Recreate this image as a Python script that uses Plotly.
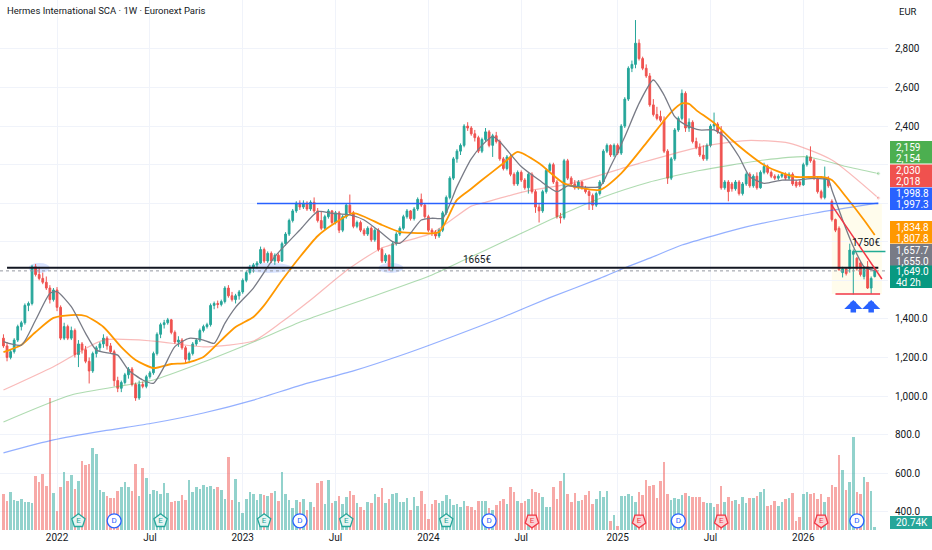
import pandas as pd
import plotly.graph_objects as go

FIRST_WEEK = "2021-09-20"

# weekly candles
OPEN = [
    1300, 1260, 1200, 1230, 1290, 1360, 1380, 1470, 1480, 1670,
    1630, 1610, 1590, 1560, 1500, 1550, 1460, 1300, 1360, 1300,
    1340, 1215, 1270, 1240, 1180, 1130, 1220, 1250, 1270, 1300,
    1260, 1230, 1080, 1040, 1070, 1110, 1140, 1060, 990, 1060,
    1050, 1100, 1120, 1220, 1320, 1370, 1380, 1395, 1330, 1280,
    1290, 1250, 1190, 1220, 1270, 1290, 1340, 1360, 1370, 1470,
    1480, 1475, 1490, 1560, 1520, 1500, 1520, 1540, 1600, 1640,
    1665, 1680, 1690, 1760, 1700, 1740, 1700, 1730, 1700, 1790,
    1840, 1910, 1960, 2000, 1980, 2000, 1970, 2005, 1960, 1910,
    1870, 1930, 1960, 1900, 1950, 1860, 1930, 1990, 1950, 1880,
    1900, 1860, 1840, 1870, 1810, 1860, 1760, 1700, 1730, 1670,
    1790, 1840, 1870, 1930, 1960, 1920, 1970, 2020, 1990, 1930,
    1860, 1850, 1830, 1860, 1950, 2030, 2130, 2230, 2270, 2300,
    2400, 2390, 2360, 2340, 2270, 2330, 2370, 2300, 2350, 2320,
    2230, 2180, 2240, 2150, 2100, 2160, 2120, 2080, 2150, 2060,
    1980, 1960, 2060, 2170, 2200, 2110, 1930, 1925, 2220, 2130,
    2100, 2080, 2110, 2080, 2060, 2040, 1990, 2050, 2110, 2270,
    2300, 2250, 2300, 2260, 2400, 2540, 2700, 2720, 2830, 2750,
    2700, 2660, 2510, 2460, 2450, 2430, 2270, 2130, 2230, 2380,
    2440, 2570, 2390, 2420, 2320, 2290, 2250, 2230, 2300, 2400,
    2410, 2370, 2080, 2110, 2100, 2075, 2110, 2050, 2100, 2150,
    2090, 2140, 2080, 2160, 2190, 2160, 2140, 2130, 2140, 2150,
    2130, 2150, 2110, 2110, 2095, 2200, 2240, 2220, 2130, 2060,
    2030, 2130, 2010, 1915, 1870, 1640, 1660, 1660, 1735, 1715,
    1690, 1620, 1670, 1560, 1620,
]
HIGH = [
    1320, 1280, 1240, 1300, 1370, 1390, 1480, 1490, 1680, 1685,
    1670, 1640, 1620, 1575, 1560, 1565, 1470, 1380, 1370, 1360,
    1350, 1290, 1280, 1260, 1200, 1230, 1260, 1280, 1320, 1310,
    1275, 1240, 1100, 1080, 1120, 1150, 1150, 1070, 1080, 1075,
    1110, 1130, 1230, 1330, 1380, 1395, 1405, 1400, 1340, 1310,
    1300, 1260, 1230, 1280, 1300, 1350, 1370, 1380, 1480, 1490,
    1495, 1500, 1570, 1575, 1540, 1530, 1550, 1610, 1650, 1680,
    1690, 1700, 1775, 1770, 1750, 1750, 1740, 1740, 1800, 1850,
    1920, 1970, 2010, 2015, 2015, 2010, 2015, 2030, 1975, 1960,
    1940, 1970, 1965, 1960, 1960, 1940, 2000, 2045, 1960, 1910,
    1910, 1870, 1880, 1880, 1870, 1870, 1770, 1740, 1735, 1800,
    1850, 1880, 1940, 1970, 1965, 1980, 2030, 2050, 2000, 1940,
    1870, 1860, 1870, 1960, 2040, 2140, 2240, 2280, 2310, 2410,
    2420, 2400, 2380, 2350, 2340, 2390, 2380, 2360, 2370, 2330,
    2240, 2250, 2250, 2160, 2170, 2170, 2130, 2160, 2160, 2070,
    2000, 2070, 2180, 2210, 2210, 2120, 1950, 2230, 2230, 2140,
    2120, 2120, 2115, 2090, 2070, 2050, 2060, 2120, 2280, 2310,
    2305, 2310, 2310, 2410, 2550, 2710, 2740, 2950, 2850, 2760,
    2720, 2675, 2540, 2500, 2480, 2450, 2280, 2240, 2390, 2450,
    2590, 2580, 2440, 2430, 2340, 2310, 2300, 2310, 2410, 2470,
    2420, 2400, 2120, 2120, 2110, 2120, 2120, 2110, 2160, 2160,
    2150, 2160, 2170, 2210, 2200, 2170, 2150, 2150, 2160, 2160,
    2160, 2160, 2120, 2120, 2210, 2250, 2295, 2230, 2140, 2070,
    2190, 2140, 2020, 1920, 1880, 1670, 1665, 1790, 1760, 1720,
    1700, 1665, 1700, 1620, 1665,
]
LOW = [
    1250, 1180, 1190, 1220, 1280, 1340, 1370, 1440, 1470, 1620,
    1600, 1580, 1550, 1480, 1490, 1440, 1290, 1290, 1290, 1290,
    1200, 1150, 1220, 1170, 1065, 1120, 1200, 1230, 1250, 1240,
    1220, 1050, 1020, 1020, 1060, 1090, 1050, 975, 980, 1040,
    1040, 1090, 1110, 1210, 1300, 1350, 1370, 1320, 1270, 1255,
    1240, 1170, 1170, 1210, 1260, 1280, 1330, 1350, 1360, 1450,
    1455, 1465, 1480, 1510, 1490, 1480, 1500, 1530, 1590, 1630,
    1640, 1660, 1685, 1690, 1690, 1690, 1680, 1690, 1695, 1780,
    1830, 1900, 1950, 1965, 1970, 1960, 1960, 1950, 1900, 1860,
    1860, 1920, 1890, 1890, 1845, 1850, 1920, 1940, 1870, 1870,
    1850, 1830, 1830, 1800, 1800, 1750, 1690, 1690, 1650, 1650,
    1780, 1830, 1860, 1920, 1910, 1910, 1960, 1980, 1920, 1850,
    1830, 1815, 1820, 1850, 1940, 2020, 2120, 2210, 2250, 2290,
    2375, 2350, 2320, 2260, 2260, 2320, 2290, 2240, 2310, 2220,
    2170, 2170, 2140, 2090, 2090, 2110, 2070, 2050, 2050, 1950,
    1900, 1950, 2050, 2160, 2100, 1920, 1895, 1915, 2120, 2090,
    2070, 2070, 2070, 2050, 1965, 1965, 1980, 2040, 2100, 2260,
    2240, 2240, 2250, 2250, 2390, 2530, 2680, 2700, 2740, 2690,
    2650, 2500, 2450, 2430, 2420, 2260, 2100, 2120, 2220, 2370,
    2430, 2370, 2370, 2310, 2280, 2240, 2220, 2220, 2290, 2380,
    2360, 2070, 2070, 2010, 2060, 2065, 2040, 2040, 2090, 2080,
    2080, 2070, 2075, 2150, 2150, 2130, 2120, 2120, 2130, 2120,
    2120, 2090, 2080, 2085, 2090, 2190, 2210, 2120, 2050, 2020,
    2020, 2080, 1905, 1850, 1650, 1615, 1625, 1640, 1527, 1650,
    1620, 1605, 1555, 1530, 1615,
]
CLOSE = [
    1260, 1200, 1230, 1290, 1360, 1380, 1470, 1480, 1670, 1630,
    1610, 1590, 1560, 1500, 1550, 1460, 1300, 1360, 1300, 1340,
    1215, 1270, 1240, 1180, 1130, 1220, 1250, 1270, 1300, 1260,
    1230, 1080, 1040, 1070, 1110, 1140, 1060, 990, 1060, 1050,
    1100, 1120, 1220, 1320, 1370, 1380, 1395, 1330, 1280, 1290,
    1250, 1190, 1220, 1270, 1290, 1340, 1360, 1370, 1470, 1480,
    1475, 1490, 1560, 1520, 1500, 1520, 1540, 1600, 1640, 1665,
    1680, 1690, 1760, 1700, 1740, 1700, 1730, 1700, 1790, 1840,
    1910, 1960, 2000, 1980, 2000, 1970, 2005, 1960, 1910, 1870,
    1930, 1960, 1900, 1950, 1860, 1930, 1990, 1950, 1880, 1900,
    1860, 1840, 1870, 1810, 1860, 1760, 1700, 1730, 1670, 1790,
    1840, 1870, 1930, 1960, 1920, 1970, 2020, 1990, 1930, 1860,
    1850, 1830, 1860, 1950, 2030, 2130, 2230, 2270, 2300, 2400,
    2390, 2360, 2340, 2270, 2330, 2370, 2300, 2350, 2320, 2230,
    2180, 2240, 2150, 2100, 2160, 2120, 2080, 2150, 2060, 1980,
    1960, 2060, 2170, 2200, 2110, 1930, 1925, 2220, 2130, 2100,
    2080, 2110, 2080, 2060, 2040, 1990, 2050, 2110, 2270, 2300,
    2250, 2300, 2260, 2400, 2540, 2700, 2720, 2830, 2750, 2700,
    2660, 2510, 2460, 2440, 2430, 2270, 2130, 2230, 2380, 2440,
    2570, 2390, 2420, 2320, 2290, 2250, 2230, 2300, 2400, 2410,
    2370, 2080, 2110, 2060, 2075, 2110, 2050, 2100, 2150, 2090,
    2140, 2080, 2160, 2190, 2160, 2140, 2130, 2140, 2150, 2130,
    2150, 2100, 2090, 2095, 2200, 2240, 2220, 2130, 2060, 2030,
    2130, 2090, 1915, 1860, 1655, 1660, 1635, 1757, 1750, 1660,
    1630, 1660, 1560, 1610, 1649,
]
# weekly volume, thousands of shares
VOLUME_K = [
    216, 176, 226, 180, 172, 186, 166, 166, 162, 326,
    286, 336, 266, 792, 220, 116, 256, 350, 292, 330,
    246, 292, 416, 390, 396, 490, 456, 240, 230, 202,
    192, 192, 232, 256, 286, 256, 236, 396, 206, 372,
    310, 216, 240, 236, 216, 280, 220, 170, 172, 176,
    210, 182, 300, 226, 256, 246, 270, 260, 262, 246,
    256, 242, 186, 436, 180, 306, 170, 102, 186, 230,
    216, 180, 216, 212, 206, 220, 236, 176, 350, 216,
    182, 132, 180, 166, 186, 120, 166, 136, 280, 292,
    156, 300, 162, 176, 202, 156, 196, 232, 210, 164,
    140, 122, 166, 162, 216, 200, 250, 162, 186, 216,
    220, 166, 166, 192, 122, 196, 146, 236, 156, 66,
    156, 180, 160, 176, 210, 186, 150, 156, 136, 176,
    146, 136, 122, 172, 176, 176, 130, 122, 150, 172,
    186, 156, 256, 230, 172, 162, 176, 186, 246, 226,
    222, 196, 136, 140, 256, 186, 296, 340, 216, 166,
    222, 172, 180, 210, 236, 156, 186, 236, 196, 232,
    56, 92, 26, 202, 206, 216, 206, 166, 230, 212,
    300, 266, 270, 190, 296, 406, 216, 180, 190, 184,
    210, 222, 206, 196, 196, 200, 170, 162, 162, 136,
    156, 266, 166, 196, 176, 180, 156, 196, 162, 190,
    192, 206, 226, 246, 142, 150, 172, 146, 166, 186,
    190, 220, 56, 80, 216, 230, 216, 220, 186, 216,
    166, 196, 270, 256, 450, 360, 240, 286, 556, 226,
    216, 316, 286, 236, 20.74,
]

# moving averages: week index -> value
SMA10_WEEK = [0, 5, 9, 13, 15, 19, 23, 26, 30, 32, 35, 39, 42, 45, 48, 52, 56, 59, 62, 65,
              70, 76, 83, 88, 92, 97, 101, 106, 109, 111, 114, 117, 120, 123, 127, 131, 134, 137, 139, 145,
              150, 155, 158, 161, 167, 170, 174, 178, 182, 185, 188, 191, 195, 199, 202, 206, 209, 213, 218, 222,
              227, 231, 232, 235, 238, 241, 244]
SMA10 = [1282, 1264, 1394, 1532, 1541, 1463, 1325, 1238, 1221, 1212, 1135, 1083, 1066, 1152, 1256, 1299, 1290, 1273, 1377, 1460,
         1560, 1723, 1861, 1956, 1948, 1939, 1913, 1844, 1801, 1792, 1844, 1913, 1922, 1922, 2086, 2230, 2300, 2345, 2319, 2190,
         2120, 2060, 2090, 2086, 2086, 2190, 2345, 2518, 2639, 2561, 2449, 2406, 2380, 2380, 2345, 2241, 2138, 2103, 2120, 2120,
         2129, 2120, 2069, 1913, 1775, 1671, 1650]
SMA20_WEEK = [0, 5, 9, 14, 19, 23, 28, 33, 37, 42, 47, 51, 56, 61, 65, 70, 73, 78, 83, 88,
              92, 98, 106, 111, 116, 122, 127, 131, 134, 140, 144, 150, 157, 167, 173, 180, 187, 190, 192, 194,
              199, 204, 208, 213, 218, 222, 229, 232, 236, 241, 244]
SMA20 = [1228, 1265, 1332, 1405, 1420, 1415, 1358, 1254, 1187, 1145, 1166, 1171, 1202, 1290, 1358, 1410, 1470, 1600, 1721, 1830,
         1887, 1949, 1887, 1851, 1845, 1851, 2017, 2075, 2120, 2207, 2266, 2207, 2103, 2069, 2155, 2312, 2473, 2518, 2515, 2483,
         2416, 2328, 2266, 2198, 2157, 2136, 2136, 2120, 2032, 1913, 1835]
SMA50_WEEK = [0, 14, 28, 42, 56, 70, 78, 86, 96, 106, 120, 131, 134, 146, 159, 178, 195, 208, 220, 232, 245]
SMA50 = [1031, 1152, 1290, 1285, 1255, 1285, 1385, 1498, 1650, 1768, 1845, 1985, 2000, 2060, 2103, 2207, 2291, 2325, 2312, 2224, 2027]
SMA100_WEEK = [0, 19, 42, 56, 70, 84, 103, 120, 129, 141, 155, 168, 181, 190, 195, 213, 225, 236, 245]
SMA100 = [865, 1005, 1083, 1176, 1280, 1390, 1514, 1628, 1705, 1809, 1930, 2032, 2110, 2150, 2170, 2224, 2241, 2190, 2154]
SMA200_WEEK = [0, 14, 28, 42, 56, 70, 84, 98, 112, 126, 140, 153, 167, 174, 181, 190, 208, 227, 245]
SMA200 = [705, 772, 819, 860, 912, 979, 1060, 1130, 1215, 1310, 1410, 1510, 1610, 1665, 1715, 1783, 1877, 1948, 2002]

# earnings (E+ beat, E- miss) and dividend markers
EVENT_DATES = ["2022-02-14", "2022-04-25", "2022-07-25", "2023-02-13", "2023-04-24", "2023-07-24", "2024-02-05",
               "2024-04-29", "2024-07-22", "2025-02-17", "2025-05-05", "2025-07-28", "2026-02-09", "2026-04-20"]
EVENT_KIND = ["E+", "D", "E+", "E+", "D", "E+", "E+", "D", "E-", "E-", "D", "E-", "E-", "D"]

TICK_DATES = ["2022-01-03", "2022-07-04", "2023-01-02", "2023-07-03", "2024-01-01",
              "2024-07-01", "2025-01-06", "2025-07-07", "2026-01-05"]
TICK_TEXT = ["2022", "Jul", "2023", "Jul", "2024", "Jul", "2025", "Jul", "2026"]

PRICE_TICKS = [400, 600, 800, 1000, 1200, 1400, 1600, 1800, 2000, 2200, 2400, 2600, 2800]
PRICE_TEXT = ["400.0", "600.0", "800.0", "1,000.0", "1,200.0", "1,400.0", "", "", "", "", "2,400", "2,600", "2,800"]

# right-hand value badges: colour, two lines
BADGES = [
    ("#4caf50", "2,159", "2,154"),
    ("#f0514e", "2,030", "2,018"),
    ("#2962ff", "1,998.8", "1,997.3"),
    ("#ff9800", "1,834.8", "1,807.8"),
    ("#787b86", "1,657.7", "1,655.0"),
    ("#089981", "1,649.0", "4d 2h"),
]
BADGE_TOPS = [141, 164.5, 187.5, 221, 244, 265.5]

LEVEL_SUPPORT = 1665
LEVEL_RESIST = 1998.8
LEVEL_TARGET = 1750
LEVEL_FLOOR = 1529
LAST_PRICE = 1649

UP = "#26a69a"
DOWN = "#ef5350"
PLOT_W = 888
PLOT_H = 530


def week(i):
    return pd.Timestamp(FIRST_WEEK) + pd.Timedelta(days=7 * i)


def px_x(x):
    return x / PLOT_W


def px_y(y):
    return (PLOT_H - y) / PLOT_H


dates = [week(i) for i in range(len(CLOSE))]
vol_colors = ["rgba(38,166,154,0.5)" if c >= o else "rgba(239,83,80,0.5)" for o, c in zip(OPEN, CLOSE)]

fig = go.Figure()

# volume on the hidden base axis
fig.add_trace(go.Bar(
    x=dates, y=VOLUME_K, marker=dict(color=vol_colors, line=dict(width=0)),
    width=7 * 86400000 * 0.72, yaxis="y", hoverinfo="skip",
))

ev_color = {"E+": "#26a69a", "E-": "#f23645", "D": "#2962ff"}
ev_fill = {"E+": "#e6f5f3", "E-": "#fbd3d5", "D": "white"}
fig.add_trace(go.Scatter(
    x=EVENT_DATES, y=[55] * len(EVENT_DATES), yaxis="y", mode="markers+text",
    text=[k[0] for k in EVENT_KIND], textposition="middle center",
    textfont=dict(size=8, color=[ev_color[k] for k in EVENT_KIND], family="Roboto"),
    marker=dict(
        symbol=["circle" if k == "D" else "pentagon" for k in EVENT_KIND],
        angle=[180 if k == "E-" else 0 for k in EVENT_KIND],
        size=14, color=[ev_fill[k] for k in EVENT_KIND],
        line=dict(width=1.3, color=[ev_color[k] for k in EVENT_KIND]),
    ),
    hoverinfo="skip",
))


def ma_line(weeks, values, color, width, end_dot=False):
    sizes = [0] * (len(weeks) - 1) + [4 if end_dot else 0]
    return go.Scatter(
        x=[week(w) for w in weeks], y=values, yaxis="y2",
        mode="lines+markers" if end_dot else "lines",
        line=dict(color=color, width=width, shape="spline", smoothing=0.6),
        marker=dict(size=sizes, color=color),
        hoverinfo="skip",
    )


fig.add_trace(ma_line(SMA200_WEEK, SMA200, "rgba(41,98,255,0.5)", 1.2))
fig.add_trace(ma_line(SMA100_WEEK, SMA100, "rgba(76,175,80,0.45)", 1.1, True))
fig.add_trace(ma_line(SMA50_WEEK, SMA50, "rgba(239,83,80,0.4)", 1.2, True))

fig.add_trace(go.Candlestick(
    x=dates, open=OPEN, high=HIGH, low=LOW, close=CLOSE, yaxis="y2",
    increasing=dict(line=dict(color=UP, width=1), fillcolor=UP),
    decreasing=dict(line=dict(color=DOWN, width=1), fillcolor=DOWN),
    whiskerwidth=0, hoverinfo="skip",
))

fig.add_trace(ma_line(SMA20_WEEK, SMA20, "#ff9800", 1.8))
fig.add_trace(ma_line(SMA10_WEEK, SMA10, "#787b86", 1.3))

shapes = []
# highlighted touches of the 1665 level
for a, b in [(7, 13), (68, 81), (105, 112)]:
    shapes.append(dict(type="circle", xref="x", yref="y2", x0=week(a), x1=week(b), y0=1638, y1=1690,
                       fillcolor="rgba(41,98,255,0.18)", line=dict(width=0), layer="below"))
# pale zone around the last leg
shapes.append(dict(type="rect", xref="x", yref="y2", x0=week(232), x1=week(246), y0=LEVEL_FLOOR, y1=2000,
                   fillcolor="rgba(255,235,120,0.14)", line=dict(width=0), layer="below"))
shapes.append(dict(type="line", xref="paper", yref="y2", x0=0, x1=1, y0=LAST_PRICE, y1=LAST_PRICE,
                   line=dict(color="#9598a1", width=1, dash="dot")))
shapes.append(dict(type="line", xref="x", yref="y2", x0=week(1), x1=week(245), y0=LEVEL_SUPPORT, y1=LEVEL_SUPPORT,
                   line=dict(color="#131722", width=2)))
shapes.append(dict(type="line", xref="x", yref="y2", x0=week(71), x1=week(245), y0=LEVEL_RESIST, y1=LEVEL_RESIST,
                   line=dict(color="#2962ff", width=1.5)))
shapes.append(dict(type="line", xref="x", yref="y2", x0=week(238), x1=week(247), y0=LEVEL_TARGET, y1=LEVEL_TARGET,
                   line=dict(color="#22ab94", width=1.5)))
shapes.append(dict(type="line", xref="x", yref="y2", x0=week(233), x1=week(245.5), y0=LEVEL_FLOOR, y1=LEVEL_FLOOR,
                   line=dict(color="#f23645", width=1.5)))
shapes.append(dict(type="line", xref="x", yref="y2", x0=week(231.8), x1=week(246), y0=1994, y1=1607,
                   line=dict(color="#f23645", width=1.5)))

annotations = [
    dict(xref="paper", yref="paper", x=px_x(5), y=px_y(11), xanchor="left", yanchor="middle", showarrow=False,
         text="Hermes International SCA · 1W · Euronext Paris", font=dict(size=9.5, color="#131722")),
    dict(xref="paper", yref="paper", x=px_x(908), y=px_y(12), xanchor="center", yanchor="middle", showarrow=False,
         text="EUR", font=dict(size=9.5, color="#131722")),
    dict(xref="x", yref="y2", x=week(132.5), y=1706, showarrow=False, text="1665€",
         font=dict(size=10, color="#131722")),
    dict(xref="x", yref="y2", x=week(241.5), y=1794, showarrow=False, text="1750€",
         font=dict(size=10, color="#131722")),
]
# blue up-arrows under the two lows
for i in (238, 243):
    annotations.append(dict(xref="x", yref="y2", x=week(i), y=1498, ax=0, ay=14, text="", showarrow=True,
                            arrowhead=1, arrowsize=0.55, arrowwidth=5.5, arrowcolor="#2962ff"))

# value badges on the price scale
for (color, top_text, bottom_text), top in zip(BADGES, BADGE_TOPS):
    shapes.append(dict(type="rect", xref="paper", yref="paper", x0=px_x(890), x1=px_x(932),
                       y0=px_y(top + 22.5), y1=px_y(top), fillcolor=color, line=dict(width=0)))
    for k, txt in enumerate((top_text, bottom_text)):
        annotations.append(dict(xref="paper", yref="paper", x=px_x(894), y=px_y(top + 6 + 11 * k),
                                xanchor="left", yanchor="middle", showarrow=False, text=txt,
                                font=dict(size=10, color="white")))
shapes.append(dict(type="rect", xref="paper", yref="paper", x0=px_x(890), x1=px_x(932),
                   y0=px_y(529), y1=px_y(516), fillcolor="#26a69a", line=dict(width=0)))
annotations.append(dict(xref="paper", yref="paper", x=px_x(894), y=px_y(522.5), xanchor="left",
                        yanchor="middle", showarrow=False, text="20.74K", font=dict(size=10, color="white")))

fig.update_layout(
    width=932, height=550,
    margin=dict(l=0, r=44, t=0, b=20),
    paper_bgcolor="white", plot_bgcolor="white",
    showlegend=False, bargap=0,
    font=dict(family="Roboto", size=10, color="#131722"),
    xaxis=dict(
        type="date", range=["2021-09-13 05:00", "2026-06-20"],
        tickvals=TICK_DATES, ticktext=TICK_TEXT,
        showgrid=True, gridcolor="#f0f3fa", zeroline=False, showline=False, ticks="",
        rangeslider=dict(visible=False), tickfont=dict(size=10),
    ),
    yaxis=dict(range=[0, 3180], visible=False, showgrid=False),
    yaxis2=dict(
        range=[305, 3054], overlaying="y", side="right",
        tickvals=PRICE_TICKS, ticktext=PRICE_TEXT,
        showgrid=True, gridcolor="#f0f3fa", zeroline=False, showline=False, ticks="",
        ticklabelstandoff=6, tickfont=dict(size=10),
    ),
    shapes=shapes,
    annotations=annotations,
)

# the page's default body margin would push the chart 8px off the window
fig.write_html(
    "out.html",
    config={"displayModeBar": False},
    post_script="document.body.style.margin='0';document.body.style.overflow='hidden';",
)
